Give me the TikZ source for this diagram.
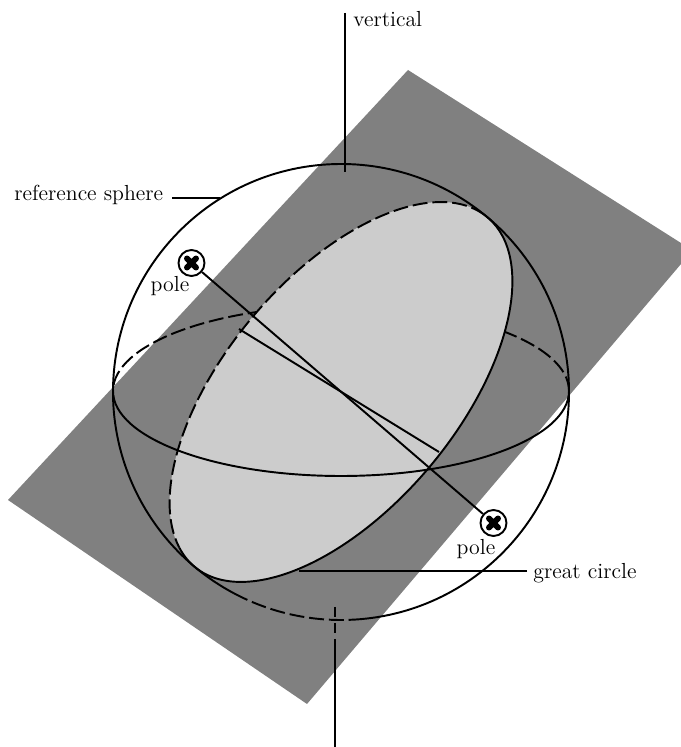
\documentclass[tikz,border=0pt]{standalone}
\usetikzlibrary{positioning,calc}

\definecolor{planegray}{gray}{0.5}
\definecolor{circlegray}{gray}{0.8}

\begin{document}
\begin{tikzpicture}[
  outline/.style={line width=1.1pt},
  hidden/.style={line width=1.1pt, dash pattern=on 8.5pt off 2.8pt},
  leader/.style={line width=0.9pt},
  label/.style={font=\fontsize{12.4}{14}\selectfont, inner sep=0pt},
  polemark/.style={circle, draw, fill=white, line width=1.1pt, minimum size=0.52cm, inner sep=0pt,
    path picture={\draw[line width=3.4pt, line cap=round]
      ([shift={(-0.09,-0.09)}]path picture bounding box.center) -- ([shift={(0.09,0.09)}]path picture bounding box.center)
      ([shift={(-0.09,0.09)}]path picture bounding box.center) -- ([shift={(0.09,-0.09)}]path picture bounding box.center);}},
]
\useasboundingbox (0,0) rectangle (13.62,14.94);
\coordinate (centre) at (6.82,7.10);

% === Inclined plane ===
\fill[planegray] (8.16,13.54) -- (13.62,10.08) -- (13.62,9.66) -- (6.14,0.86) -- (0.16,4.94) -- cycle;

% === Horizontal circle, far side ===
\draw[hidden] ([shift={(0,0.02)}]centre) ++(4.56,0) arc[start angle=0, end angle=180, x radius=4.56, y radius=1.70];

% === Great circle ===
\begin{scope}[shift={(centre)}, rotate=50]
  \fill[circlegray] (0,0) ellipse[x radius=4.56, y radius=2.32];
  \draw[hidden] (2:4.56 and 2.32) arc[start angle=2, end angle=168, x radius=4.56, y radius=2.32];
  \draw[outline] (168:4.56 and 2.32) arc[start angle=168, end angle=362, x radius=4.56, y radius=2.32];
\end{scope}

% === Reference sphere ===
\draw[outline] (centre) ++(272:4.56) arc[start angle=272, end angle=602, radius=4.56];
\draw[hidden] (centre) ++(242:4.56) arc[start angle=242, end angle=272, radius=4.56];

% === Horizontal circle, near side ===
\draw[outline] ([shift={(0,0.02)}]centre) ++(-4.56,0) arc[start angle=180, end angle=360, x radius=4.56, y radius=1.70];

% === Poles ===
\node[polemark] (poleA) at (3.83,9.68) {};
\node[polemark] (poleB) at (9.87,4.48) {};
\draw[outline] (poleA) -- (poleB);
\node[label] (poleAtext) at (3.40,9.21) {pole};
\node[label] (poleBtext) at (9.52,3.96) {pole};

% === Line of dip ===
\coordinate (dipA) at (4.78,8.36);
\coordinate (dipB) at (8.78,5.90);
\draw[outline] (dipA) -- (dipB);

% === Vertical ===
\node[label, anchor=west] (vertical) at (7.06,14.56) {vertical};
\coordinate (vertTop) at (6.90,14.68);
\coordinate (vertEnd) at (6.90,11.50);
\draw[outline] (vertTop) -- (vertEnd);
\coordinate (vertLow) at (6.70,0);
\coordinate (vertMid) at (6.70,2.14);
\coordinate (vertStub) at (6.70,2.80);
\draw[outline] (vertLow) -- (vertMid);
\draw[outline, dash pattern=on 5.7pt off 3.4pt] (vertStub) -- (vertMid);

% === Labels ===
\node[label, anchor=west] (sphereText) at (0.28,11.04) {reference sphere};
\coordinate (sphereStart) at (3.44,10.98);
\coordinate (sphereTip) at (4.40,10.98);
\draw[leader] (sphereStart) -- (sphereTip);
\node[label, anchor=west] (circleText) at (10.66,3.48) {great circle};
\coordinate (circleStart) at (10.54,3.52);
\coordinate (circleTip) at (5.98,3.52);
\draw[leader] (circleStart) -- (circleTip);

\end{tikzpicture}
\end{document}
